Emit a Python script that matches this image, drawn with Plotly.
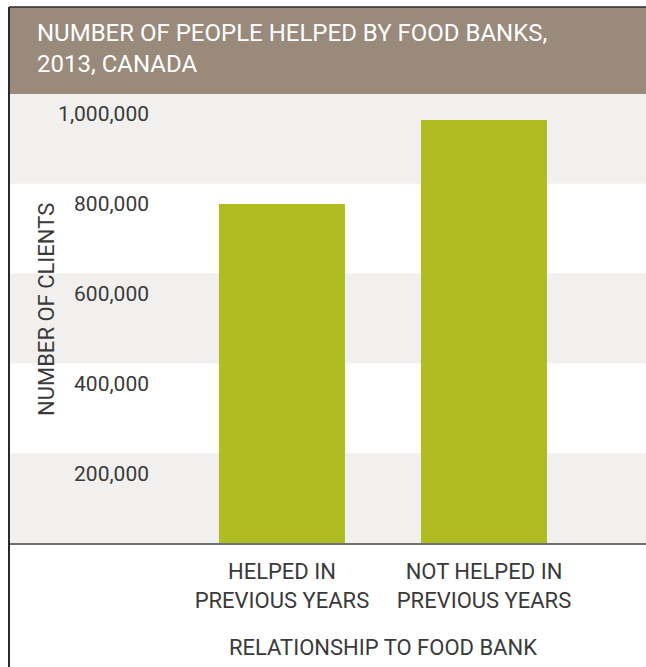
import plotly.graph_objects as go

# ---- data ----
categories = ["HELPED IN<br>PREVIOUS YEARS", "NOT HELPED IN<br>PREVIOUS YEARS"]
clients = [755000, 942000]
tick_values = [200000, 400000, 600000, 800000, 1000000]
tick_labels = ["200,000", "400,000", "600,000", "800,000", "1,000,000"]
title_text = "NUMBER OF PEOPLE HELPED BY FOOD BANKS,<br>2013, CANADA"
y_title = "NUMBER OF CLIENTS"
x_title = "RELATIONSHIP TO FOOD BANK"

# ---- styles ----
W, H = 646, 667
ML, MR, MT, MB = 9, 0, 94, 124
PW, PH = W - ML - MR, H - MT - MB
FONT = "Roboto"
TEXT = "#3a3a3a"
BAR = "#afbd22"
BAND = "#f1f0ee"
HEAD = "#998a7c"

def px_x(p):
    return (p - ML) / PW

def px_y(p):
    return (H - MB - p) / PH

fig = go.Figure()
fig.add_trace(go.Bar(
    x=categories, y=clients, width=0.624,
    marker=dict(color=BAR, line=dict(width=0)),
    hoverinfo="skip",
))

shapes = []
# alternating horizontal bands (grey on 0-200k, 400-600k, 800k-1M)
edges = [0] + tick_values
for i in range(len(edges) - 1):
    if i % 2 == 0:
        shapes.append(dict(type="rect", xref="paper", yref="y", x0=0, x1=1,
                           y0=edges[i], y1=edges[i + 1], fillcolor=BAND,
                           line=dict(width=0), layer="below"))
# header band
shapes.append(dict(type="rect", xref="paper", yref="paper", x0=0, x1=1,
                   y0=1, y1=px_y(7), fillcolor=HEAD, line=dict(width=0), layer="below"))
# frame lines (top and left)
shapes.append(dict(type="line", xref="paper", yref="paper", x0=0, x1=1.02,
                   y0=px_y(7), y1=px_y(7), line=dict(color="#2a2a2a", width=1.5)))
shapes.append(dict(type="line", xref="paper", yref="paper", x0=0, x1=0,
                   y0=px_y(7), y1=px_y(H + 2), line=dict(color="#2a2a2a", width=2)))

annotations = [
    dict(text=title_text, xref="paper", yref="paper", x=px_x(35), y=px_y(48),
         xanchor="left", yanchor="middle", align="left", showarrow=False,
         font=dict(family=FONT, size=24, color="#ffffff")),
    dict(text=y_title, xref="paper", yref="paper", x=px_x(46), y=px_y(310),
         xanchor="center", yanchor="middle", textangle=-90, showarrow=False,
         font=dict(family=FONT, size=22, color=TEXT)),
    dict(text=x_title, xref="x", yref="paper", x=0.5, y=px_y(647),
         xanchor="center", yanchor="middle", showarrow=False,
         font=dict(family=FONT, size=22, color=TEXT)),
]

fig.update_layout(
    width=W, height=H,
    margin=dict(l=ML, r=MR, t=MT, b=MB, pad=0),
    paper_bgcolor="#ffffff", plot_bgcolor="#ffffff",
    showlegend=False,
    shapes=shapes,
    annotations=annotations,
    xaxis=dict(
        type="category", range=[-1.351, 1.802],
        showgrid=False, zeroline=False,
        showline=True, linecolor="#707070", linewidth=2,
        ticks="", ticklabelstandoff=8,
        tickfont=dict(family=FONT, size=22, color=TEXT),
        fixedrange=True,
    ),
    yaxis=dict(
        range=[0, 1000000], anchor="free", position=px_x(149),
        tickvals=tick_values, ticktext=tick_labels,
        ticks="", ticklabelshift=20, ticklabelstandoff=0,
        showgrid=False, zeroline=False, showline=False,
        tickfont=dict(family=FONT, size=21, color=TEXT),
        fixedrange=True,
    ),
)

fig.write_html("out.html")
